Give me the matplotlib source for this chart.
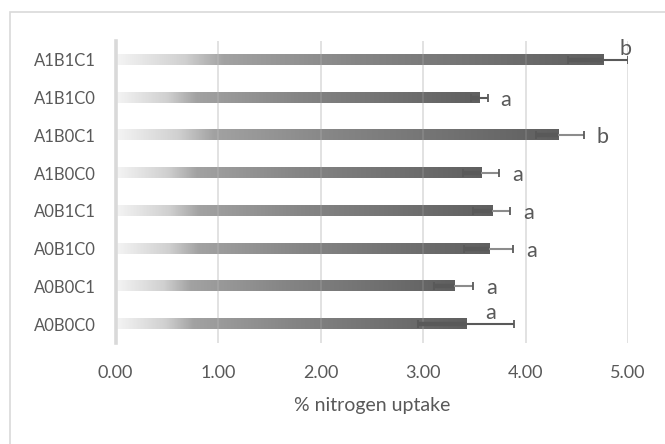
import matplotlib

matplotlib.use("Agg")

import matplotlib.pyplot as plt
import numpy as np
from matplotlib.colors import LinearSegmentedColormap
from matplotlib.patches import Rectangle

# data (bottom to top, as drawn)
categories = ["A0B0C0", "A0B0C1", "A0B1C0", "A0B1C1",
              "A1B0C0", "A1B0C1", "A1B1C0", "A1B1C1"]
uptake = [3.42, 3.30, 3.64, 3.67, 3.57, 4.32, 3.55, 4.76]
err_minus = [0.47, 0.19, 0.24, 0.18, 0.18, 0.22, 0.08, 0.35]
err_plus = [0.47, 0.19, 0.24, 0.18, 0.17, 0.25, 0.08, 0.24]
letters = ["a", "a", "a", "a", "a", "b", "a", "b"]

TEXT = "#595959"
GRID = "#d9d9d9"
DARK = "#595959"
plus_colors = [DARK, "#8c8c8c", "#8c8c8c", "#8c8c8c",
               "#8c8c8c", "#8c8c8c", DARK, DARK]

plt.rcParams["font.family"] = ["Lato", "DejaVu Sans"]

bar_cmap = LinearSegmentedColormap.from_list(
    "bar_grad",
    [(0.0, "#f4f4f4"), (0.14, "#d0d0d0"), (0.22, "#a2a2a2"),
     (0.5, "#858585"), (1.0, "#5f5f5f")],
)

fig = plt.figure(figsize=(6.65, 4.44), dpi=100)
ax = fig.add_axes([115.5 / 665, 1 - 343 / 444, 512.5 / 665, 302 / 444])

ypos = np.arange(len(categories))
bar_h = 0.27
grad = np.linspace(0, 1, 256).reshape(1, -1)

for y, v in zip(ypos, uptake):
    ax.imshow(grad, cmap=bar_cmap, aspect="auto", zorder=1,
              extent=[0, v, y - bar_h / 2, y + bar_h / 2],
              interpolation="bilinear")

# error bars
cap = 0.105
for y, v, em, ep, pc in zip(ypos, uptake, err_minus, err_plus, plus_colors):
    ax.hlines(y, v - em, v, color=DARK, lw=3.2, zorder=3)
    ax.hlines(y, v, v + ep, color=pc, lw=1.5, zorder=3)
    ax.vlines([v - em, v + ep], y - cap, y + cap, color=DARK, lw=1.3, zorder=3)

# significance letters
for y, v, em, ep, lab in zip(ypos, uptake, err_minus, err_plus, letters):
    if y == len(categories) - 1:
        tx, ty = v + ep - 0.02, y + 0.3
    elif y == 0:
        tx, ty = v + ep / 2, y + 0.3
    else:
        tx, ty = v + ep + 0.18, y - 0.05
    ax.text(tx, ty, lab, ha="center", va="center", fontsize=15.5,
            color=TEXT, zorder=4)

ax.set_xlim(0, 5)
ax.set_ylim(-0.5, len(categories) - 0.5)
ax.set_xticks(np.arange(0, 5.01, 1.0))
ax.set_xticklabels([f"{t:.2f}" for t in np.arange(0, 5.01, 1.0)])
ax.set_yticks(ypos)
ax.set_yticklabels(categories)
ax.tick_params(axis="both", length=0, colors=TEXT)
ax.tick_params(axis="x", pad=16, labelsize=13)
ax.tick_params(axis="y", pad=14, labelsize=12)

ax.grid(axis="x", color=GRID, lw=1.2, zorder=0)
ax.set_axisbelow(True)
for t in range(1, 6):
    ax.axvline(t, color="#ffffff", lw=1.2, alpha=0.12, zorder=2)

for side in ["top", "right", "bottom"]:
    ax.spines[side].set_visible(False)
ax.spines["left"].set_color(GRID)
ax.spines["left"].set_linewidth(2.6)

ax.set_xlabel("% nitrogen uptake", fontsize=14, color=TEXT, labelpad=11)

fig.patches.append(Rectangle((10 / 665, -0.1), 1.0, 1.1 - 12 / 444,
                             transform=fig.transFigure, fill=False,
                             ec=GRID, lw=1.2))

fig.savefig("out.png", dpi=100)
plt.close(fig)
